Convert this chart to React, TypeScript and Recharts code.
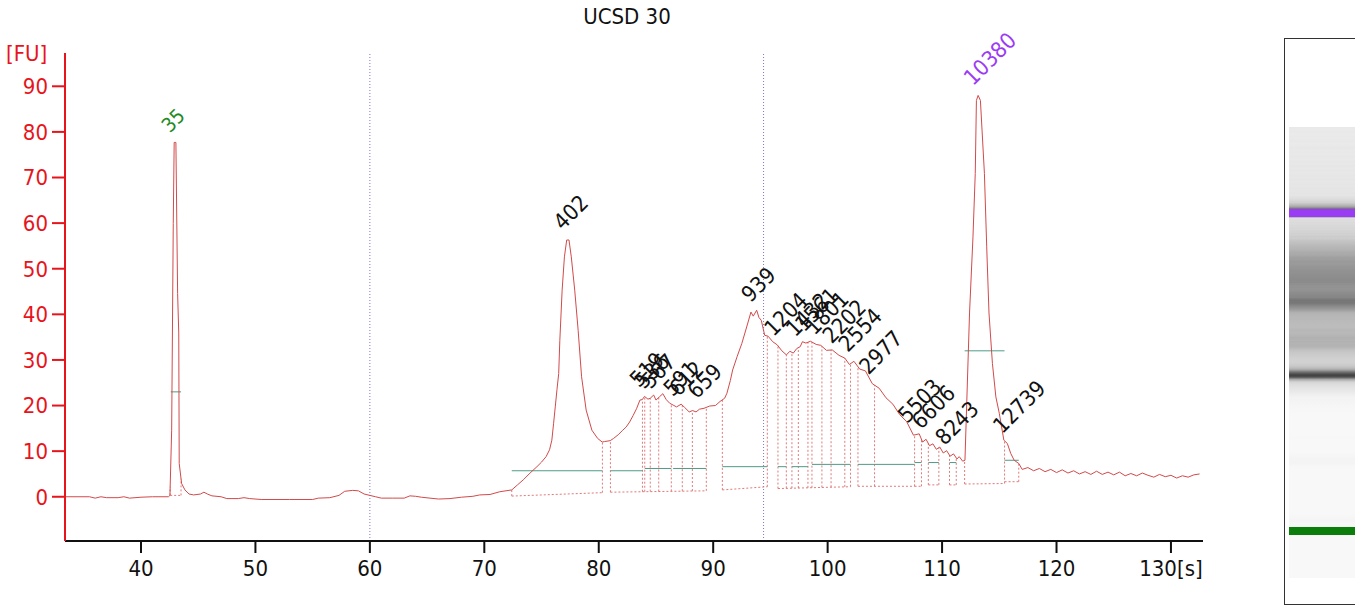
import React from 'react';
import { ComposedChart, Line, Scatter, XAxis, YAxis, ReferenceLine } from 'recharts';

// electropherogram trace: migration time [s] and fluorescence [FU]
const traceTimes = [
  33.4, 35.5, 36.0, 36.5, 37.0, 38.0, 38.5, 39.0, 40.0, 41.0, 42.4, 42.53, 42.68, 42.82, 42.9, 43.05,
  43.2, 43.3, 43.34, 43.55, 43.84, 44.2, 44.6, 45.2, 45.5, 45.8, 46.2, 47.0, 47.5, 48.5, 49.0, 49.5,
  50.5, 53.0, 55.0, 55.5, 56.5, 57.3, 57.8, 58.5, 59.0, 59.5, 60.0, 60.5, 61.0, 62.0, 63.0, 63.5,
  64.0, 64.5, 66.0, 67.0, 68.0, 69.0, 69.6, 70.5, 71.35, 72.4, 72.9, 73.4, 74.0, 74.6, 75.0, 75.4,
  75.7, 75.9, 76.05, 76.2, 76.35, 76.5, 76.6, 76.8, 77.0, 77.2, 77.4, 77.6, 77.9, 78.2, 78.5, 78.9,
  79.4, 79.9, 80.3, 80.5, 81.0, 81.3, 81.7, 82.1, 82.4, 82.7, 83.0, 83.3, 83.6, 83.8, 84.0, 84.3,
  84.5, 84.8, 85.0, 85.3, 85.6, 85.9, 86.2, 86.5, 86.8, 87.2, 87.5, 87.9, 88.2, 88.5, 88.8, 89.2,
  89.7, 90.2, 90.6, 91.0, 91.2, 91.5, 91.7, 92.1, 92.5, 92.9, 93.3, 93.5, 93.8, 94.0, 94.2, 94.5,
  94.8, 95.2, 95.6, 96.0, 96.4, 96.7, 97.0, 97.3, 97.6, 97.8, 98.1, 98.5, 99.0, 99.4, 99.9, 100.4,
  101.0, 101.5, 101.9, 102.3, 102.8, 103.3, 103.9, 104.5, 105.1, 105.7, 106.3, 106.9, 107.5, 108.0, 108.3, 108.6,
  108.9, 109.2, 109.5, 109.8, 110.1, 110.4, 110.7, 111.0, 111.3, 111.5, 111.8, 112.0, 112.4, 112.7, 112.9, 113.0,
  113.15, 113.35, 113.7, 113.9, 114.1, 114.4, 114.7, 115.0, 115.4, 115.7, 116.0, 116.3, 116.7, 117.0, 117.5, 118.0,
  118.5, 119.0, 119.5, 120.0, 120.5, 121.0, 121.5, 122.0, 122.5, 123.0, 123.5, 124.0, 124.5, 125.0, 125.5, 126.0,
  126.5, 127.0, 127.5, 128.0, 128.5, 129.0, 129.5, 130.0, 130.5, 131.0, 131.5, 132.0, 132.5,
];
const traceValues = [
  0, 0, -0.3, 0, -0.2, -0.2, 0, -0.3, -0.1, 0, 0, 0.3, 14.6, 59.9, 77.7, 77.7,
  44.6, 35.9, 7.3, 2.9, 1.5, 0.6, 0.4, 0.6, 1.0, 0.6, 0.2, 0.0, -0.4, -0.4, -0.2, -0.4,
  -0.6, -0.6, -0.6, -0.3, -0.2, 0.3, 1.2, 1.4, 1.3, 0.6, 0.3, 0.0, -0.3, -0.3, -0.3, 0.2,
  0.1, -0.1, -0.5, -0.4, -0.1, 0.1, 0.4, 0.5, 1.1, 1.5, 2.6, 3.7, 5.2, 6.6, 7.6, 8.8,
  10.3, 12.4, 16.0, 19.7, 23.5, 27.0, 34.3, 45.3, 52.6, 56.3, 56.3, 52.6, 45.3, 36.5, 26.3, 19.0,
  14.6, 12.8, 12.0, 12.1, 12.3, 12.8, 13.6, 14.6, 15.3, 16.4, 17.8, 19.3, 21.2, 21.3, 22.0, 21.4,
  21.6, 22.3, 21.2, 21.9, 22.6, 21.3, 20.5, 20.1, 19.7, 20.3, 19.6, 18.6, 18.9, 18.6, 19.2, 19.4,
  19.9, 20.0, 20.9, 21.6, 22.7, 25.5, 27.8, 30.8, 33.6, 37.0, 40.5, 39.6, 40.9, 39.3, 38.7, 35.4,
  35.2, 34.0, 33.3, 32.0, 31.1, 31.9, 31.5, 32.5, 32.9, 34.0, 33.7, 34.1, 33.4, 33.2, 32.1, 32.2,
  31.0, 30.4, 29.0, 29.7, 28.0, 27.6, 24.8, 23.8, 21.7, 20.3, 18.0, 16.5, 13.5, 13.8, 12.0, 12.6,
  11.2, 11.6, 10.4, 10.9, 9.6, 10.1, 8.9, 9.4, 8.3, 8.8, 7.8, 8.0, 40.3, 57.0, 70.9, 86.9,
  88.0, 86.9, 70.9, 54.8, 40.3, 29.2, 21.9, 18.3, 12.4, 11.7, 9.5, 8.0, 7.3, 6.0, 6.4, 5.7,
  6.2, 5.5, 6.0, 5.3, 5.9, 5.2, 5.7, 5.0, 5.5, 4.9, 5.6, 4.9, 5.4, 4.8, 5.4, 4.6,
  5.1, 4.6, 5.2, 4.7, 4.3, 4.9, 4.4, 4.7, 4.1, 4.6, 4.3, 4.8, 5.0,
];

// peak boundaries (dashed verticals) and integration baselines
const boundaryTimes = [
  42.55, 43.5, 72.4, 80.32, 81.02, 83.82, 84.02, 84.5, 85.24, 86.34, 87.3, 88.18, 89.4, 90.8, 94.73,
  95.66, 96.39, 96.88, 97.44, 98.28, 98.63, 99.5, 100.3, 101.5, 102.0, 102.65, 104.1, 107.6, 108.2,
  108.8, 109.72, 110.65, 111.24, 111.97, 115.46, 116.7,
];
const baselineSegments: [number, number, number, number][] = [
  [42.55, 0.3, 43.5, 0.3],
  [72.4, 0.15, 80.32, 0.9],
  [81.02, 1.0, 89.4, 1.3],
  [90.8, 1.5, 94.73, 2.2],
  [95.66, 1.8, 102.0, 2.2],
  [102.65, 2.3, 107.6, 2.3],
  [107.6, 2.3, 108.2, 2.3],
  [108.8, 2.6, 109.72, 2.6],
  [110.65, 2.6, 111.24, 2.6],
  [111.97, 2.8, 115.46, 2.9],
  [115.46, 3.3, 116.7, 3.3],
];
// peak width bars (green)
const widthBars: [number, number, number][] = [
  [42.6, 43.5, 23.0],
  [72.4, 80.32, 5.7],
  [81.02, 83.82, 5.7],
  [84.02, 86.34, 6.2],
  [86.5, 89.4, 6.2],
  [90.8, 94.73, 6.6],
  [95.66, 96.39, 6.6],
  [96.88, 98.28, 6.6],
  [98.63, 102.0, 7.1],
  [102.65, 107.6, 7.1],
  [107.6, 108.2, 7.5],
  [108.8, 109.72, 7.5],
  [110.65, 111.24, 7.5],
  [111.97, 115.46, 32.0],
  [115.46, 116.7, 8.0],
];

// peak size labels [bp]
const peakLabels = ['35', '402', '519', '536', '567', '591', '612', '659', '939', '1204', '1432', '1561', '1801', '2202', '2554', '2977', '5503', '6606', '8243', '10380', '12739'];
const peakTimes = [42.97, 77.3, 83.95, 84.4, 84.95, 86.9, 87.4, 89.0, 93.7, 95.7, 97.6, 98.4, 99.3, 100.8, 102.2, 104.0, 107.4, 108.6, 110.65, 113.15, 115.7];
const lowerMarker = '35';
const upperMarker = '10380';

const markerLines = [60.0, 94.4];
const xTicks = [40, 50, 60, 70, 80, 90, 100, 110, 120, 130];
const yTicks = [0, 10, 20, 30, 40, 50, 60, 70, 80, 90];

const FONT = "Tahoma, 'DejaVu Sans Condensed', 'Noto Sans', sans-serif";
const AXIS_RED = '#e8141c';
const TRACE = '#d24a4a';
const DASH = '#e07a7a';
const GREEN_BAR = '#4f9b86';
const PURPLE = '#9b3cf5';
const GREEN = '#1f8a1f';

const trace = traceTimes.map((t, i) => ({ t, v: traceValues[i] }));

const interp = (t: number) => {
  for (let i = 1; i < traceTimes.length; i++) {
    if (t <= traceTimes[i]) {
      const t0 = traceTimes[i - 1];
      const t1 = traceTimes[i];
      const f = (t - t0) / (t1 - t0);
      return traceValues[i - 1] + f * (traceValues[i] - traceValues[i - 1]);
    }
  }
  return traceValues[traceValues.length - 1];
};

const baseAt = (t: number) => {
  let best = Infinity;
  baselineSegments.forEach(([a, va, b, vb]) => {
    if (t >= a - 0.01 && t <= b + 0.01) {
      const v = va + ((t - a) / (b - a)) * (vb - va);
      best = Math.min(best, v);
    }
  });
  return best === Infinity ? 0 : best;
};

const labelData = peakLabels.map((text, i) => ({
  t: peakTimes[i],
  v: interp(peakTimes[i]),
  text,
  color: text === lowerMarker ? GREEN : text === upperMarker ? PURPLE : '#111',
  size: text === lowerMarker ? 20 : 22,
}));

const PeakLabel = (props: any) => {
  const { cx, cy } = props;
  const p = props.payload ?? props;
  const x = cx - 5;
  const y = cy - 9;
  return (
    <text
      x={x}
      y={y}
      fill={p.color}
      fontSize={p.size}
      fontFamily={FONT}
      transform={`rotate(-45 ${x} ${y})`}
    >
      {p.text}
    </text>
  );
};

// gel lane: same time axis mapped vertically
const laneTop = 127;
const laneHeight = 451;
const laneTMax = 132.1;
const laneTMin = 32.6;
const laneY = (t: number) => ((laneTMax - t) / (laneTMax - laneTMin)) * laneHeight;

const gelGradient = () => {
  const stops = trace
    .slice()
    .reverse()
    .map((p) => {
      const g = Math.round(Math.max(60, Math.min(248, 248 - 3.2 * p.v)));
      const pct = ((laneY(p.t) / laneHeight) * 100).toFixed(2);
      return `rgb(${g},${g},${g}) ${pct}%`;
    });
  return `linear-gradient(to bottom, ${stops.join(', ')})`;
};

const gelMarkers = [
  { t: 113.15, color: PURPLE },
  { t: 42.97, color: '#0a7d0a' },
];

export default function App() {
  return (
    <div style={{ position: 'absolute', left: 0, top: 0, width: 1355, height: 609, background: '#fff', overflow: 'hidden', fontFamily: FONT }}>
      <div style={{ position: 'absolute', left: 0, width: 1254, top: 4, textAlign: 'center', fontSize: 22, color: '#111' }}>UCSD 30</div>
      <div style={{ position: 'absolute', left: 6, top: 41, fontSize: 22, color: AXIS_RED }}>[FU]</div>
      <div style={{ position: 'absolute', left: 0, top: 0 }}>
        <ComposedChart width={1240} height={609} margin={{ top: 53, right: 37, bottom: 0, left: 0 }}>
          <XAxis
            type="number"
            dataKey="t"
            domain={[33.36, 132.8]}
            ticks={xTicks}
            tickFormatter={(v: number) => (v === 130 ? '130[s]' : String(v))}
            height={68}
            axisLine={{ stroke: '#111', strokeWidth: 2 }}
            tickLine={{ stroke: '#111', strokeWidth: 2 }}
            tickSize={12}
            tickMargin={7}
            tick={{ fill: '#111', fontSize: 22, fontFamily: FONT }}
          />
          <YAxis
            type="number"
            domain={[-9.7, 97.3]}
            ticks={yTicks}
            width={65}
            axisLine={{ stroke: AXIS_RED, strokeWidth: 2 }}
            tickLine={{ stroke: AXIS_RED, strokeWidth: 2 }}
            tickSize={13}
            tickMargin={4}
            tick={{ fill: AXIS_RED, fontSize: 22, fontFamily: FONT }}
          />
          {markerLines.map((t) => (
            <ReferenceLine key={`m${t}`} x={t} stroke="#7a7acc" strokeDasharray="1 2" strokeWidth={1} />
          ))}
          {baselineSegments.map(([a, va, b, vb], i) => (
            <ReferenceLine
              key={`b${i}`}
              segment={[{ x: a, y: va }, { x: b, y: vb }]}
              stroke={DASH}
              strokeDasharray="2 2"
              strokeWidth={1}
            />
          ))}
          {boundaryTimes.map((t, i) => (
            <ReferenceLine
              key={`v${i}`}
              segment={[{ x: t, y: baseAt(t) }, { x: t, y: interp(t) }]}
              stroke={DASH}
              strokeDasharray="2 2"
              strokeWidth={1}
            />
          ))}
          {widthBars.map(([a, b, v], i) => (
            <ReferenceLine key={`g${i}`} segment={[{ x: a, y: v }, { x: b, y: v }]} stroke={GREEN_BAR} strokeWidth={1} />
          ))}
          <Line
            data={trace}
            dataKey="v"
            type="linear"
            dot={false}
            stroke={TRACE}
            strokeWidth={1}
            isAnimationActive={false}
          />
          <Scatter data={labelData} dataKey="v" shape={PeakLabel} isAnimationActive={false} />
        </ComposedChart>
      </div>
      {/* gel lane */}
      <div style={{ position: 'absolute', left: 1284, top: 38, width: 90, height: 567, border: '1px solid #333', boxSizing: 'border-box' }} />
      <div style={{ position: 'absolute', left: 1289, top: laneTop, width: 70, height: laneHeight, background: gelGradient() }} />
      {gelMarkers.map((m) => (
        <div
          key={m.t}
          style={{ position: 'absolute', left: 1289, top: laneTop + laneY(m.t) - 4, width: 70, height: 8, background: m.color }}
        />
      ))}
    </div>
  );
}
